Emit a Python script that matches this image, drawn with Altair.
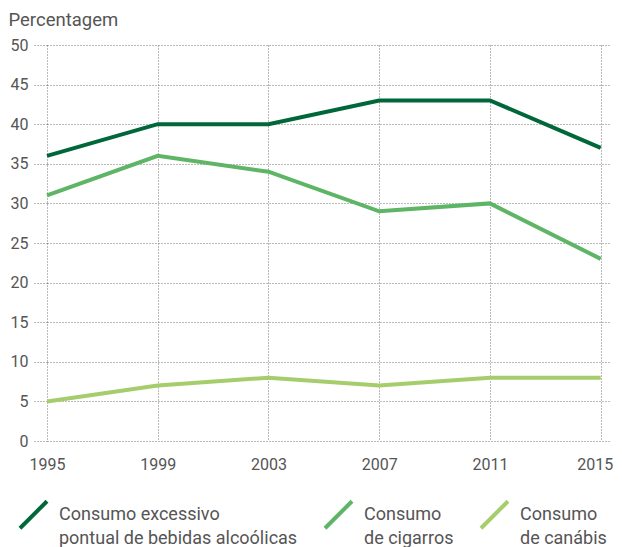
import altair as alt
import pandas as pd

years = [1995, 1999, 2003, 2007, 2011, 2015]
alcohol = [36, 40, 40, 43, 43, 37]
cigarettes = [31, 36, 34, 29, 30, 23]
cannabis = [5, 7, 8, 7, 8, 8]
series_names = [
    "Consumo excessivo|pontual de bebidas alcoólicas",
    "Consumo|de cigarros",
    "Consumo|de canábis",
]
colors = ["#00673a", "#5db565", "#a5cd6c"]

rows = []
for name, vals in zip(series_names, [alcohol, cigarettes, cannabis]):
    for y, v in zip(years, vals):
        rows.append({"ano": y, "valor": v, "serie": name})
df = pd.DataFrame(rows)

FONT = "Roboto"
GRAY = "#555555"
last_year_test = "datum.value == 2015"

chart = alt.Chart(df).mark_line(strokeWidth=4, strokeJoin="miter").encode(
    x=alt.X("ano:Q",
            scale=alt.Scale(domain=[1995, 2015.3], nice=False, zero=False),
            axis=alt.Axis(values=years, format="d", title=None, ticks=False,
                          domain=False, labelPadding=15, labelFontSize=16,
                          labelFlush=False, labelOverlap=False,
                          labelAlign={"condition": {"test": last_year_test, "value": "right"},
                                      "value": "center"},
                          labelOffset={"condition": {"test": last_year_test, "value": 12},
                                       "value": 0},
                          labelColor=GRAY, labelFont=FONT,
                          grid=True, gridDash=[1, 2], gridColor="#777",
                          gridWidth=1)),
    y=alt.Y("valor:Q",
            scale=alt.Scale(domain=[0, 50], nice=False),
            axis=alt.Axis(values=list(range(0, 51, 5)), title="Percentagem",
                          titleAngle=0, titleAlign="left", titleX=-39, titleY=-20,
                          titleBaseline="alphabetic", titleFontSize=18.5,
                          titleFontWeight="normal", titleColor=GRAY, titleFont=FONT,
                          domain=False, tickSize=14, tickDash=[1, 2],
                          tickColor="#777", labelPadding=5, labelFontSize=16,
                          labelColor=GRAY, labelFont=FONT, labelAlign="right",
                          grid=True, gridDash=[1, 2], gridColor="#777",
                          gridWidth=1)),
    color=alt.Color("serie:N",
                    scale=alt.Scale(domain=series_names, range=colors),
                    legend=alt.Legend(
                        title=None, orient="none", legendX=-29, legendY=454,
                        direction="horizontal", columns=3, columnPadding=19,
                        symbolType="M-1,1L1,-1", symbolSize=729,
                        symbolStrokeWidth=4, labelOffset=10,
                        labelExpr="split(datum.label, '|')",
                        labelFontSize=18, labelColor=GRAY, labelFont=FONT,
                        labelBaseline="middle", labelLimit=400)),
).properties(
    width=562, height=396,
    padding={"left": 0, "top": 2, "right": 0, "bottom": 0},
).configure(
    style={"guide-label": {"lineHeight": 24}},
    view=alt.ViewConfig(stroke=None),
)

chart.save("out.html", embed_options={"renderer": "svg", "actions": False})
